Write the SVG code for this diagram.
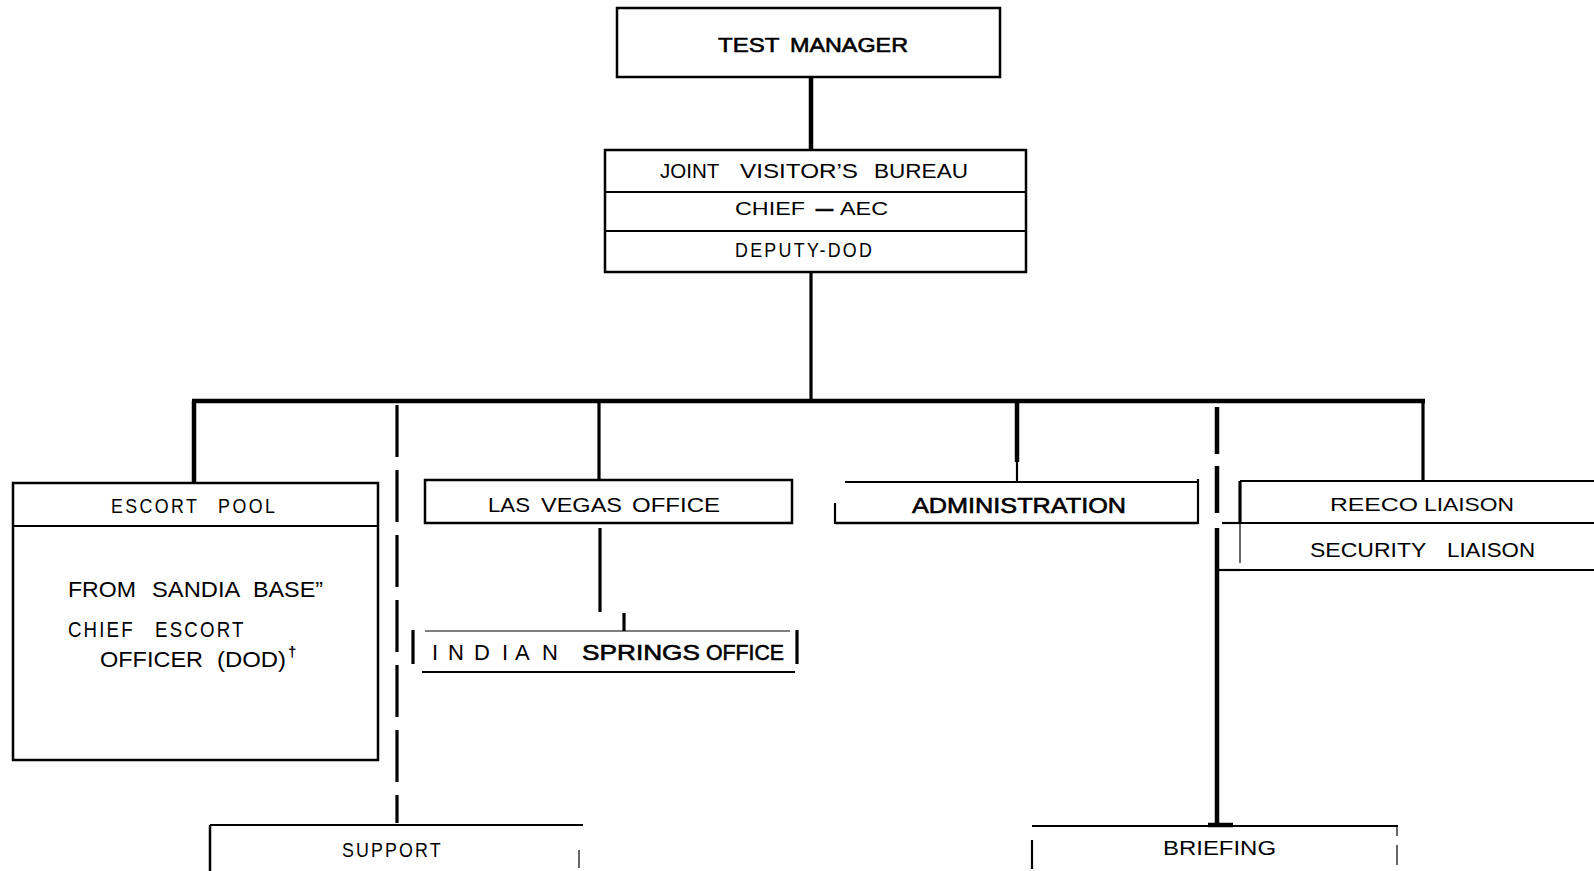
<svg xmlns="http://www.w3.org/2000/svg" width="1594" height="871" viewBox="0 0 1594 871">
<style>
  .bg { fill: #ffffff; }
  .box { fill: none; stroke: #000; stroke-width: 2.5; }
  .ln { fill: none; stroke: #000; stroke-width: 2.2; }
  .thin { fill: none; stroke: #000; stroke-width: 1.2; }
  .thick { fill: none; stroke: #000; stroke-width: 4.5; }
  .med { fill: none; stroke: #000; stroke-width: 3.2; }
  .t { font-family: "Liberation Sans", Arial, sans-serif; fill: #000; }
  .m { stroke: #000; stroke-width: 0.6; }
</style>
<rect class="bg" x="0" y="0" width="1594" height="871"/>

<g id="connectors">
  <line class="thick" x1="811" y1="77" x2="811" y2="150"/>
  <line class="med" x1="811" y1="272" x2="811" y2="401"/>
  <line class="thick" x1="192" y1="401" x2="1425" y2="401"/>
  <line class="thick" x1="194" y1="401" x2="194" y2="484"/>
  <line class="med" x1="599" y1="401" x2="599" y2="479"/>
  <line class="thick" x1="1017" y1="401" x2="1017" y2="462"/>
  <line class="ln" x1="1017" y1="462" x2="1017" y2="481"/>
  <line class="med" x1="1423" y1="401" x2="1423" y2="482"/>
  <line class="med" x1="600" y1="528" x2="600" y2="612"/>
  <line class="med" x1="624" y1="613" x2="624" y2="631"/>
  <line class="med" x1="397" y1="405" x2="397" y2="823" stroke-dasharray="52 13"/>
  <line class="thick" x1="1217" y1="407" x2="1217" y2="517" stroke-dasharray="47 12"/>
  <line class="thick" x1="1217" y1="528" x2="1217" y2="826"/>
  <line class="thick" x1="1208" y1="825" x2="1233" y2="825"/>
  <line class="ln" x1="1222" y1="523" x2="1240" y2="523"/>
  <line class="ln" x1="1218" y1="570" x2="1240" y2="570"/>
</g>

<g id="test-manager">
  <rect class="box" x="617" y="8" width="383" height="69"/>
  <text class="t m" y="52" font-size="21"><tspan x="718" textLength="61" lengthAdjust="spacingAndGlyphs">TEST</tspan> <tspan x="790" textLength="118" lengthAdjust="spacingAndGlyphs">MANAGER</tspan></text>
</g>

<g id="joint-visitors-bureau">
  <rect class="box" x="605" y="150" width="421" height="122"/>
  <line class="ln" x1="605" y1="192" x2="1026" y2="192"/>
  <line class="ln" x1="605" y1="231" x2="1026" y2="231"/>
  <text class="t" y="178" font-size="19.5"><tspan x="660" textLength="59" lengthAdjust="spacingAndGlyphs">JOINT</tspan> <tspan x="740" textLength="118" lengthAdjust="spacingAndGlyphs">VISITOR’S</tspan> <tspan x="874" textLength="94" lengthAdjust="spacingAndGlyphs">BUREAU</tspan></text>
  <text class="t" y="215" font-size="19"><tspan x="735" textLength="70" lengthAdjust="spacingAndGlyphs">CHIEF</tspan> <tspan x="815" textLength="19" lengthAdjust="spacingAndGlyphs" font-weight="bold" class="m">–</tspan> <tspan x="840" textLength="48" lengthAdjust="spacingAndGlyphs">AEC</tspan></text>
  <text class="t" transform="scale(0.85 1)" x="864.7" y="257" font-size="21" textLength="161" lengthAdjust="spacing">DEPUTY-DOD</text>
</g>

<g id="escort-pool">
  <rect class="box" x="13" y="483" width="365" height="277"/>
  <line class="ln" x1="13" y1="526" x2="378" y2="526"/>
  <text class="t" transform="scale(0.85 1)" y="513" font-size="21"><tspan x="130.6" textLength="101" lengthAdjust="spacing">ESCORT</tspan> <tspan x="256.5" textLength="67" lengthAdjust="spacing">POOL</tspan></text>
  <text class="t" y="597" font-size="22"><tspan x="68" textLength="68" lengthAdjust="spacingAndGlyphs">FROM</tspan> <tspan x="152" textLength="87" lengthAdjust="spacingAndGlyphs">SANDIA</tspan> <tspan x="253" textLength="70" lengthAdjust="spacingAndGlyphs">BASE”</tspan></text>
  <text class="t" transform="scale(0.85 1)" y="637" font-size="22"><tspan x="80" textLength="76" lengthAdjust="spacing">CHIEF</tspan> <tspan x="182.4" textLength="104" lengthAdjust="spacing">ESCORT</tspan></text>
  <text class="t" y="667" font-size="22"><tspan x="100" textLength="103" lengthAdjust="spacingAndGlyphs">OFFICER</tspan> <tspan x="217" textLength="69" lengthAdjust="spacingAndGlyphs">(DOD)</tspan><tspan x="288" dy="-10" font-size="15" font-weight="bold">†</tspan></text>
</g>

<g id="las-vegas-office">
  <rect class="box" x="425" y="480" width="367" height="43"/>
  <text class="t" y="512" font-size="21"><tspan x="488" textLength="42" lengthAdjust="spacingAndGlyphs">LAS</tspan> <tspan x="541" textLength="81" lengthAdjust="spacingAndGlyphs">VEGAS</tspan> <tspan x="632" textLength="88" lengthAdjust="spacingAndGlyphs">OFFICE</tspan></text>
</g>

<g id="indian-springs-office">
  <line class="thin" x1="425" y1="631" x2="790" y2="631"/>
  <line class="med" x1="413" y1="630" x2="413" y2="664"/>
  <line class="med" x1="797" y1="630" x2="797" y2="664"/>
  <line class="ln" x1="422" y1="672" x2="795" y2="672"/>
  <text class="t" y="660" font-size="22"><tspan x="432">I</tspan><tspan x="448">N</tspan><tspan x="474">D</tspan><tspan x="502">I</tspan><tspan x="515">A</tspan><tspan x="542">N</tspan> <tspan x="582" class="m" textLength="118" lengthAdjust="spacingAndGlyphs">SPRINGS</tspan><tspan x="706" class="m" textLength="78" lengthAdjust="spacingAndGlyphs">OFFICE</tspan></text>
</g>

<g id="administration">
  <line class="ln" x1="845" y1="482" x2="1198" y2="482"/>
  <line class="box" x1="835" y1="523" x2="1198" y2="523"/>
  <line class="ln" x1="835" y1="503" x2="835" y2="524"/>
  <line class="ln" x1="1198" y1="479" x2="1198" y2="524"/>
  <text class="t m" x="912" y="513" font-size="22" textLength="214" lengthAdjust="spacingAndGlyphs">ADMINISTRATION</text>
</g>

<g id="reeco-security-liaison">
  <line class="ln" x1="1240" y1="481" x2="1594" y2="481"/>
  <line class="med" x1="1240" y1="481" x2="1240" y2="524"/>
  <line class="thin" x1="1240" y1="524" x2="1240" y2="563"/>
  <line class="ln" x1="1240" y1="523" x2="1594" y2="523"/>
  <line class="ln" x1="1240" y1="570" x2="1594" y2="570"/>
  <text class="t" y="511" font-size="19"><tspan x="1330" textLength="88" lengthAdjust="spacingAndGlyphs">REECO</tspan> <tspan x="1424" textLength="90" lengthAdjust="spacingAndGlyphs">LIAISON</tspan></text>
  <text class="t" y="557" font-size="19.5"><tspan x="1310" textLength="116" lengthAdjust="spacingAndGlyphs">SECURITY</tspan> <tspan x="1447" textLength="88" lengthAdjust="spacingAndGlyphs">LIAISON</tspan></text>
</g>

<g id="support">
  <line class="ln" x1="210" y1="825" x2="583" y2="825"/>
  <line class="box" x1="210" y1="825" x2="210" y2="871"/>
  <line class="thin" x1="579" y1="850" x2="579" y2="868"/>
  <text class="t" transform="scale(0.85 1)" x="402.4" y="857" font-size="21" textLength="116" lengthAdjust="spacing">SUPPORT</text>
</g>

<g id="briefing">
  <line class="ln" x1="1032" y1="826" x2="1398" y2="826"/>
  <line class="ln" x1="1032" y1="840" x2="1032" y2="869"/>
  <line class="thin" x1="1397" y1="826" x2="1397" y2="836"/>
  <line class="thin" x1="1397" y1="845" x2="1397" y2="865"/>
  <text class="t" x="1163" y="855" font-size="21" textLength="113" lengthAdjust="spacingAndGlyphs">BRIEFING</text>
</g>
</svg>
